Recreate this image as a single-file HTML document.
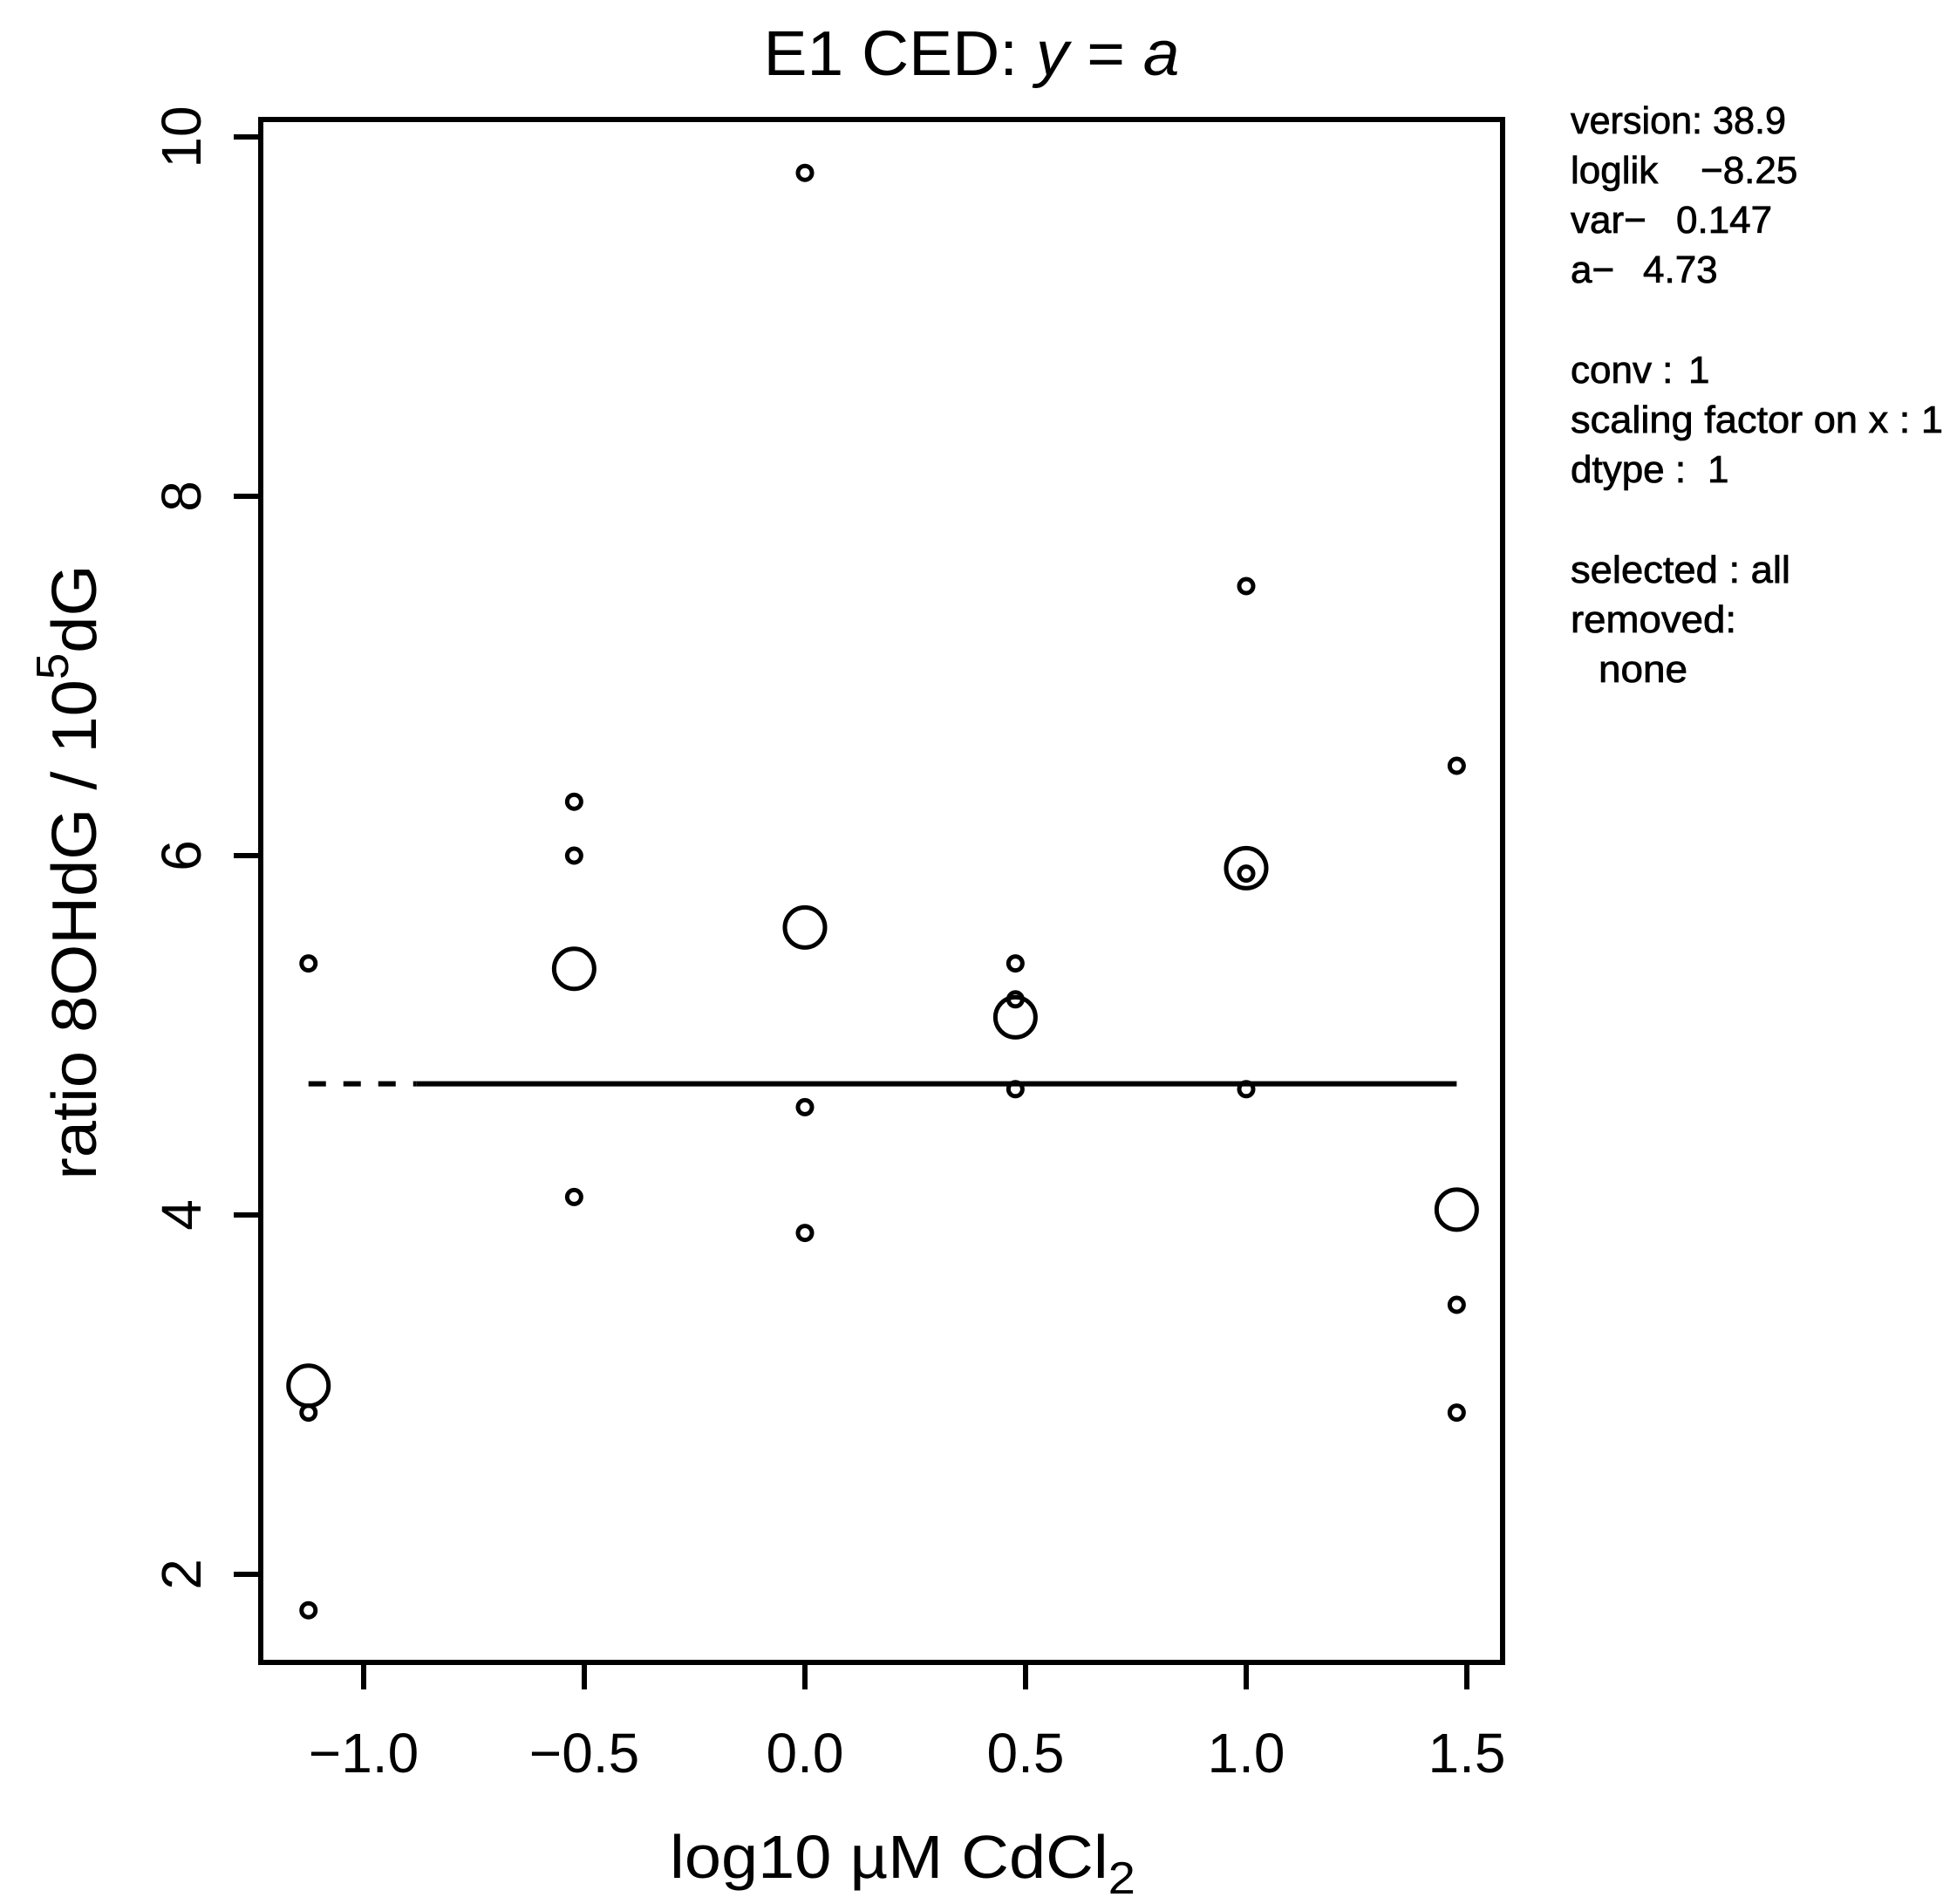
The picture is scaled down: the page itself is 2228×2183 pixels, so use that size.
<!DOCTYPE html>
<html><head><meta charset="utf-8"><style>
html,body{margin:0;padding:0;background:#fff;}
svg{display:block;}
text{font-family:"Liberation Sans",sans-serif;fill:#000;}
</style></head><body>
<svg id="chart" width="2228" height="2183" viewBox="0 0 2228 2183" xmlns="http://www.w3.org/2000/svg">
<rect x="0" y="0" width="2228" height="2183" fill="#fff"/>
<text x="1114" y="86" font-size="72" text-anchor="middle" textLength="477" lengthAdjust="spacingAndGlyphs">E1 CED: <tspan font-style="italic">y</tspan> = <tspan font-style="italic">a</tspan></text>
<rect x="299" y="137" width="1424" height="1769" fill="none" stroke="#000" stroke-width="6"/>
<g id="yaxis"></g>
<g id="xaxis"></g>
<g id="fit"></g>
<g id="points"></g>
<text transform="translate(110,1000) rotate(-90)" font-size="72" text-anchor="middle" textLength="705" lengthAdjust="spacingAndGlyphs">ratio 8OHdG / 10<tspan font-size="52" dy="-32">5</tspan><tspan dy="32">dG</tspan></text>
<text x="768" y="2153" font-size="70" textLength="534" lengthAdjust="spacingAndGlyphs">log10 µM CdCl<tspan font-size="52" dy="18">2</tspan></text>
<g font-size="44" stroke="#000" stroke-width="0.8">
<text x="1801" y="153" textLength="247" lengthAdjust="spacingAndGlyphs">version: 38.9</text>
<text x="1801" y="210">loglik<tspan x="1950">−8.25</tspan></text>
<text x="1801" y="267">var−<tspan x="1922">0.147</tspan></text>
<text x="1801" y="324">a−<tspan x="1884">4.73</tspan></text>
<text x="1801" y="439">conv :<tspan x="1936">1</tspan></text>
<text x="1801" y="496" textLength="427" lengthAdjust="spacingAndGlyphs">scaling factor on x :  1</text>
<text x="1801" y="553">dtype :<tspan x="1958">1</tspan></text>
<text x="1801" y="668" textLength="252" lengthAdjust="spacingAndGlyphs">selected :  all</text>
<text x="1801" y="725" textLength="190" lengthAdjust="spacingAndGlyphs">removed:</text>
<text x="1833" y="782" textLength="102" lengthAdjust="spacingAndGlyphs">none</text>
</g>
</svg>
<script>
const xTicks = [-1.0, -0.5, 0.0, 0.5, 1.0, 1.5];
const xTickLabels = ["\u22121.0", "\u22120.5", "0.0", "0.5", "1.0", "1.5"];
const yTicks = [2, 4, 6, 8, 10];
const yTickLabels = ["2", "4", "6", "8", "10"];
const smallX = [-1.125,-1.125,-1.125,-0.523,-0.523,-0.523,0,0,0,0.477,0.477,0.477,1,1,1,1.477,1.477,1.477];
const smallY = [5.4,2.9,1.8,6.3,6.0,4.1,9.8,4.6,3.9,5.4,5.2,4.7,7.5,5.9,4.7,6.5,3.5,2.9];
const meanX = [-1.125,-0.523,0,0.477,1,1.477];
const meanY = [3.05,5.37,5.6,5.1,5.93,4.03];
const fitA = [4.73];
const fitXStart = [-1.125];
const fitXSolid = [-0.88];
const fitXEnd = [1.477];

const NS = "http://www.w3.org/2000/svg";
function sx(v){ return 417 + (v + 1) * 506; }
function sy(v){ return 157 + (10 - v) * 206; }
function mk(tag, attrs, parent){
  const e = document.createElementNS(NS, tag);
  for (const k in attrs) e.setAttribute(k, attrs[k]);
  parent.appendChild(e);
  return e;
}
const ya = document.getElementById('yaxis');
yTicks.forEach((t, i) => {
  const l = mk('line', {x1: 268, x2: 299, y1: sy(t), y2: sy(t), stroke: '#000', 'stroke-width': 6}, ya);
  
  
  const tx = mk('text', {transform: 'translate(230,' + sy(t) + ') rotate(-90)', 'font-size': 64, 'text-anchor': 'middle'}, ya);
  
  
  tx.textContent = yTickLabels[i];
});
const xa = document.getElementById('xaxis');
xTicks.forEach((t, i) => {
  const l = mk('line', {x1: sx(t), x2: sx(t), y1: 1906, y2: 1937, stroke: '#000', 'stroke-width': 6}, xa);
  
  
  const tx = mk('text', {x: sx(t), y: 2032, 'font-size': 64, 'text-anchor': 'middle'}, xa);
  
  
  tx.textContent = xTickLabels[i];
});
const fit = document.getElementById('fit');
const d1 = mk('line', {x1: sx(fitXStart[0]), x2: sx(fitXSolid[0]), y1: sy(fitA[0]), y2: sy(fitA[0]), stroke: '#000', 'stroke-width': 6, 'stroke-dasharray': '20,20'}, fit);


const d2 = mk('line', {x1: sx(fitXSolid[0]), x2: sx(fitXEnd[0]), y1: sy(fitA[0]), y2: sy(fitA[0]), stroke: '#000', 'stroke-width': 6}, fit);


const pts = document.getElementById('points');
smallX.forEach((x, i) => {
  const c = mk('circle', {cx: sx(x), cy: sy(smallY[i]), r: 8, fill: 'none', stroke: '#000', 'stroke-width': 5}, pts);
  
  
});
meanX.forEach((x, i) => {
  const c = mk('circle', {cx: sx(x), cy: sy(meanY[i]), r: 23, fill: 'none', stroke: '#000', 'stroke-width': 5}, pts);
  
  
});
</script>
</body></html>
